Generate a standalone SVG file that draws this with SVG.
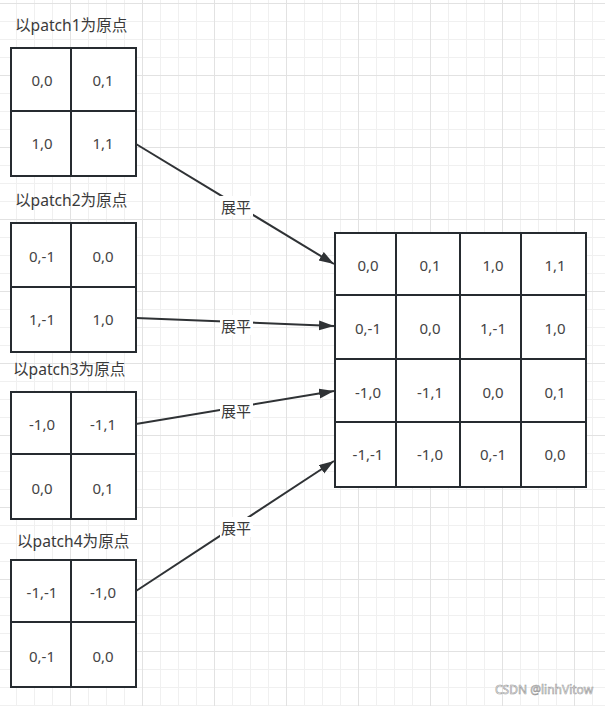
<svg xmlns="http://www.w3.org/2000/svg" width="605" height="706" viewBox="0 0 605 706">
<defs>
<pattern id="grid" patternUnits="userSpaceOnUse" x="70" y="3" width="72" height="72">
<rect x="0" y="0" width="72" height="72" fill="#ffffff"/>
<rect x="18" y="0" width="1" height="72" fill="#f0f0f0"/>
<rect x="36" y="0" width="1" height="72" fill="#f0f0f0"/>
<rect x="54" y="0" width="1" height="72" fill="#f0f0f0"/>
<rect x="0" y="18" width="72" height="1" fill="#f0f0f0"/>
<rect x="0" y="36" width="72" height="1" fill="#f0f0f0"/>
<rect x="0" y="54" width="72" height="1" fill="#f0f0f0"/>
<rect x="0" y="0" width="1" height="72" fill="#e2e2e2"/>
<rect x="0" y="0" width="72" height="1" fill="#e2e2e2"/>
</pattern>
<marker id="arr" markerUnits="userSpaceOnUse" markerWidth="16" markerHeight="12" refX="15" refY="5" orient="auto">
<path d="M0,0 L15,5 L0,10 z" fill="#2f3235"/>
</marker>
</defs>
<style>
.cell{fill:#ffffff;stroke:#262b30;stroke-width:2}
.ln{stroke:#262b30;stroke-width:2;fill:none}
.num{font-family:"Noto Sans","Noto Sans CJK SC",sans-serif;font-size:15px;fill:#444444;text-anchor:middle;dominant-baseline:central}
.lbl{font-family:"Noto Sans","Noto Sans CJK SC",sans-serif;font-size:15.6px;fill:#3a3a3a}
.edge{stroke:#2f3235;stroke-width:2;fill:none;marker-end:url(#arr)}
.el{font-family:"Noto Sans CJK SC",sans-serif;font-size:15px;fill:#3a3a3a;text-anchor:middle;dominant-baseline:central}
.wm{font-family:"Noto Sans","Liberation Sans",sans-serif;font-size:12px;fill:#ffffff;stroke:#9a9a9a;stroke-width:0.6}
</style>
<rect x="0" y="0" width="605" height="706" fill="url(#grid)"/>

<g id="label1"><text class="lbl" x="15" y="31">以patch1为原点</text></g>
<g id="label2"><text class="lbl" x="15" y="206">以patch2为原点</text></g>
<g id="label3"><text class="lbl" x="13" y="375">以patch3为原点</text></g>
<g id="label4"><text class="lbl" x="17" y="547">以patch4为原点</text></g>

<g id="patch1">
<rect class="cell" x="11" y="48" width="125" height="128"/>
<line class="ln" x1="71" y1="48" x2="71" y2="176"/>
<line class="ln" x1="11" y1="111" x2="136" y2="111"/>
<text class="num" x="42" y="80">0,0</text>
<text class="num" x="103" y="80">0,1</text>
<text class="num" x="42" y="143">1,0</text>
<text class="num" x="103" y="143">1,1</text>
</g>

<g id="patch2">
<rect class="cell" x="11" y="223" width="125" height="129"/>
<line class="ln" x1="71" y1="223" x2="71" y2="352"/>
<line class="ln" x1="11" y1="287" x2="136" y2="287"/>
<text class="num" x="42" y="256">0,-1</text>
<text class="num" x="103" y="256">0,0</text>
<text class="num" x="42" y="319">1,-1</text>
<text class="num" x="103" y="319">1,0</text>
</g>

<g id="patch3">
<rect class="cell" x="11" y="392" width="125" height="127"/>
<line class="ln" x1="71" y1="392" x2="71" y2="519"/>
<line class="ln" x1="11" y1="454" x2="136" y2="454"/>
<text class="num" x="42" y="424">-1,0</text>
<text class="num" x="103" y="424">-1,1</text>
<text class="num" x="42" y="488">0,0</text>
<text class="num" x="103" y="488">0,1</text>
</g>

<g id="patch4">
<rect class="cell" x="11" y="560" width="125" height="127"/>
<line class="ln" x1="71" y1="560" x2="71" y2="687"/>
<line class="ln" x1="11" y1="622" x2="136" y2="622"/>
<text class="num" x="42" y="592">-1,-1</text>
<text class="num" x="103" y="592">-1,0</text>
<text class="num" x="42" y="656">0,-1</text>
<text class="num" x="103" y="656">0,0</text>
</g>

<g id="flattened">
<rect class="cell" x="335" y="233" width="251" height="254"/>
<line class="ln" x1="396" y1="233" x2="396" y2="487"/>
<line class="ln" x1="460" y1="233" x2="460" y2="487"/>
<line class="ln" x1="521" y1="233" x2="521" y2="487"/>
<line class="ln" x1="335" y1="295" x2="586" y2="295"/>
<line class="ln" x1="335" y1="359" x2="586" y2="359"/>
<line class="ln" x1="335" y1="422" x2="586" y2="422"/>
<text class="num" x="368" y="265">0,0</text>
<text class="num" x="430" y="265">0,1</text>
<text class="num" x="493" y="265">1,0</text>
<text class="num" x="555" y="265">1,1</text>
<text class="num" x="368" y="328">0,-1</text>
<text class="num" x="430" y="328">0,0</text>
<text class="num" x="493" y="328">1,-1</text>
<text class="num" x="555" y="328">1,0</text>
<text class="num" x="368" y="392">-1,0</text>
<text class="num" x="430" y="392">-1,1</text>
<text class="num" x="493" y="392">0,0</text>
<text class="num" x="555" y="392">0,1</text>
<text class="num" x="368" y="454">-1,-1</text>
<text class="num" x="430" y="454">-1,0</text>
<text class="num" x="493" y="454">0,-1</text>
<text class="num" x="555" y="454">0,0</text>
</g>

<g id="connectors">
<line class="edge" x1="136" y1="144" x2="334" y2="264"/>
<line class="edge" x1="136" y1="318" x2="334" y2="326"/>
<line class="edge" x1="136" y1="424" x2="334" y2="391"/>
<line class="edge" x1="136" y1="591" x2="334" y2="461"/>
<rect x="220" y="196" width="33" height="20" fill="#ffffff"/>
<text class="el" x="236" y="206">展平</text>
<rect x="220" y="315" width="33" height="20" fill="#ffffff"/>
<text class="el" x="236" y="325">展平</text>
<rect x="220" y="400" width="33" height="20" fill="#ffffff"/>
<text class="el" x="236" y="410">展平</text>
<rect x="220" y="517" width="33" height="20" fill="#ffffff"/>
<text class="el" x="236" y="527">展平</text>
</g>

<text class="wm" x="495" y="694">CSDN @linhVitow</text>
</svg>
